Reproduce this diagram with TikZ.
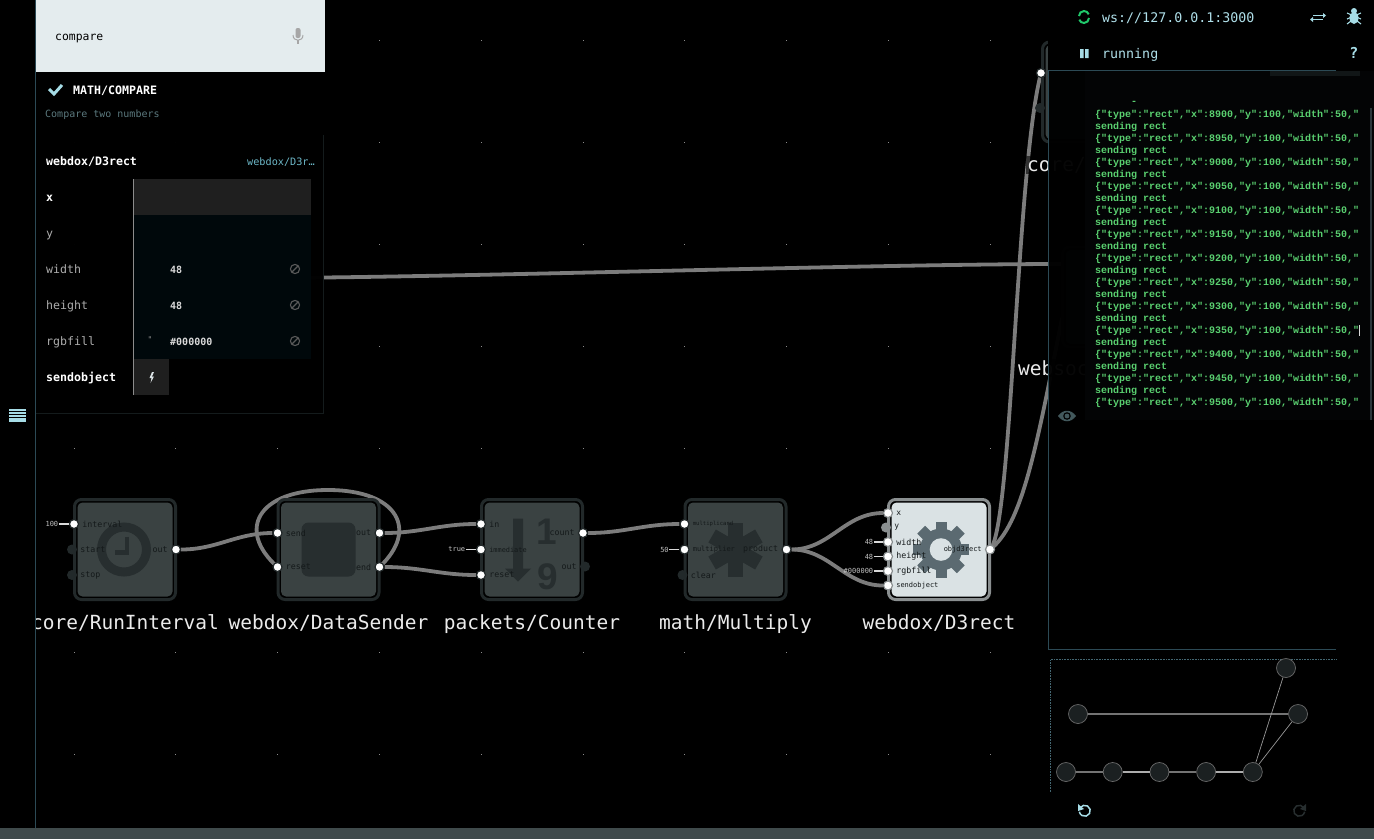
\documentclass[tikz,border=0pt]{standalone}
\usepackage{fontspec}
\usetikzlibrary{chains,positioning,backgrounds}
\newfontfamily\codefont{DejaVu Sans Mono}
\newfontfamily\logfont{Liberation Mono}
\newfontfamily\digitfont{Liberation Sans}
\newcommand{\fs}[1]{\fontsize{#1}{#1}\selectfont}
\definecolor{ring}{HTML}{22292A}
\definecolor{ringlight}{HTML}{8A8F90}
\definecolor{bodygray}{HTML}{3A4242}
\definecolor{bodylight}{HTML}{DAE2E4}
\definecolor{searchfill}{HTML}{E4ECEE}
\definecolor{iconink}{HTML}{272E2F}
\definecolor{portink}{HTML}{14191A}
\definecolor{gearink}{HTML}{5B6A71}
\definecolor{wirecol}{HTML}{7C7C7C}
\definecolor{linecol}{HTML}{2C4A55}
\definecolor{paleblue}{HTML}{A6DCE6}
\definecolor{tealtext}{HTML}{6DB8C8}
\definecolor{rowfill}{HTML}{00080B}
\definecolor{loggreen}{HTML}{5AD070}
\definecolor{syncgreen}{HTML}{20C86A}
\definecolor{barcol}{HTML}{3F4A4B}
\begin{document}
\begin{tikzpicture}[
x=1pt,y=-1pt,
block/.style 2 args={
  rounded corners=7pt,
  draw=#1,
  line width=3pt,
  fill=black,
  minimum width=101pt,
  minimum height=100pt,
  inner sep=0pt,
  path picture={\fill[rounded corners=5pt,#2]
    ([shift={(3pt,-3pt)}]path picture bounding box.north west) rectangle
    ([shift={(-3pt,3pt)}]path picture bounding box.south east);}
},
blocktitle/.style={
  font=\codefont\fs{19.5},
  text=white!92!black,
  fill=black,
  fill opacity=.6,
  text opacity=1,
  inner sep=1pt,
  label distance=12pt
},
port/.style={
  circle,
  fill=white,
  draw=#1,
  line width=1.2pt,
  inner sep=0pt,
  minimum size=9pt
},
port/.default=ring,
idle/.style={
  circle,
  fill=#1,
  inner sep=0pt,
  minimum size=10pt
},
idle/.default=ring,
inlab/.style={
  font=\codefont\fs{#1},
  text=portink,
  inner sep=1pt,
  label distance=2pt
},
inlab/.default=8.3,
iip/.style={
  font=\codefont\fs{7},
  text=white!75!black,
  inner sep=.5pt
},
iipline/.style={draw=white!85!black,line width=1.4pt},
wire/.style={draw=wirecol,line width=3.8pt},
mininode/.style={
  circle,
  draw=white!42!black,
  fill=iconink!70!black,
  line width=.7pt,
  minimum size=19pt,
  inner sep=0pt
},
minidim/.style={draw=white!45!black,line width=1.2pt},
minibright/.style={draw=white!68!black,line width=1.2pt},
minithin/.style={draw=white!60!black,line width=.7pt},
boxed/.style={anchor=west,inner sep=0pt,text height=10pt,text depth=1.6pt},
rowtext/.style={boxed,font=\codefont\fs{11.6},text=white!68!black},
rowbold/.style={boxed,font=\codefont\bfseries\fs{11.6},text=white},
rowvalue/.style={boxed,font=\codefont\bfseries\fs{10},text=white!85!black},
banicon/.style={draw=white!35!black,line width=1.1pt},
logline/.style={font=\logfont\bfseries\fs{10},text=loggreen,anchor=west,inner sep=0pt,text height=9pt,text depth=1.6pt},
headtext/.style={font=\codefont\fs{13.3},text=paleblue!90!white,anchor=west,inner sep=0pt,text height=12pt,text depth=.6pt},
start chain=flow going right,node distance=99.5pt
]
\useasboundingbox (0,0) rectangle (1374,839);

% grid and wires stay behind the blocks
\begin{scope}[on background layer]
\fill[black] (0,0) rectangle (1374,839);
\foreach \gx in {0,...,9}
  \foreach \gy in {0,...,7}
    \fill[white!55!black] ({74+101.8*\gx-.5},{40+102*\gy-.5}) rectangle +(1,1);
\end{scope}

% blocks
\node[on chain=flow,block={ring}{bodygray},label={[blocktitle]below:core/RunInterval}] at (125,549.5)
  (runinterval) {};
\node[on chain=flow,block={ring}{bodygray},label={[blocktitle]below:webdox/DataSender}]
  (datasender) {};
\node[on chain=flow,block={ring}{bodygray},label={[blocktitle]below:packets/Counter}]
  (counter) {};
\node[on chain=flow,block={ring}{bodygray},label={[blocktitle]below:math/Multiply}]
  (multiply) {};
\node[on chain=flow,block={ringlight}{bodylight},label={[blocktitle]below:webdox/D3rect}]
  (dthree) {};
\node[block={ring}{bodygray}] at (1093,92) (corenode) {};
\node[block={ring}{bodygray}] at (1113,297) (socknode) {};
\node[blocktitle,anchor=west] at (1026,165) (corelabel) {core/};
\node[blocktitle,anchor=west] at (1017,368) (socklabel) {websoc};

% icons
\begin{scope}[shift={(runinterval)}]
\draw[iconink,line width=9pt] (-1,0) circle (22.5pt);
\draw[iconink,line width=4.5pt] (2,-13) -- (2,3) -- (-10,3);
\end{scope}
\node[fill=iconink,rounded corners=7pt,minimum size=54pt,inner sep=0pt] at (datasender) (stopicon) {};
\begin{scope}[shift={(counter)}]
\fill[iconink] (-19,-31) rectangle (-9,19) -- (-1,19) -- (-14,32) -- (-27,19) -- (-19,19);
\end{scope}
\node[font=\digitfont\bfseries\fs{37},text=iconink,inner sep=0pt] at (547,532) (digitone) {1};
\node[font=\digitfont\bfseries\fs{37},text=iconink,inner sep=0pt] at (548,577) (digitnine) {9};
\begin{scope}[shift={(multiply)}]
\foreach \a in {90,30,-30}
  \draw[iconink,line width=15pt,rotate=\a] (-27,0) -- (27,0);
\end{scope}
\begin{scope}[shift={(dthree)}]
\fill[gearink] (2,0) circle (21pt);
\foreach \a in {0,45,...,315}
  \fill[gearink,shift={(2,0)},rotate=\a] (14,-5.5) rectangle (28,5.5);
\fill[bodylight] (2,0) circle (11.3pt);
\end{scope}

% ports
\node[port,label={[inlab]right:interval}] at ([shift={(1,-25.5)}]runinterval.west) (riinterval) {};
\node[idle,label={[inlab]right:start}] at ([shift={(-1,0)}]runinterval.west) (ristart) {};
\node[idle,label={[inlab]right:stop}] at ([shift={(-1,25.5)}]runinterval.west) (ristop) {};
\node[port,label={[inlab]left:out}] at ([shift={(-1,0)}]runinterval.east) (riout) {};

\node[port,label={[inlab]right:send}] at ([shift={(1,-16.5)}]datasender.west) (dssend) {};
\node[port,label={[inlab]right:reset}] at ([shift={(1,17.5)}]datasender.west) (dsreset) {};
\node[port,label={[inlab]left:out}] at ([shift={(-1,-16.5)}]datasender.east) (dsout) {};
\node[port,label={[inlab]left:end}] at ([shift={(-1,17.5)}]datasender.east) (dsend) {};

\node[port,label={[inlab]right:in}] at ([shift={(1,-25.5)}]counter.west) (cin) {};
\node[port,label={[inlab=6.9]right:immediate}] at ([shift={(1,0)}]counter.west) (cimm) {};
\node[port,label={[inlab]right:reset}] at ([shift={(1,25.5)}]counter.west) (creset) {};
\node[port,label={[inlab]left:count}] at ([shift={(-1,-16.5)}]counter.east) (ccount) {};
\node[idle,label={[inlab]left:out}] at ([shift={(1,17)}]counter.east) (cout) {};

\node[port,label={[inlab=5.6]right:multiplicand}] at ([shift={(1,-25.5)}]multiply.west) (mcand) {};
\node[port,label={[inlab=7]right:multiplier}] at ([shift={(1,0)}]multiply.west) (mplier) {};
\node[idle,label={[inlab]right:clear}] at ([shift={(-1,25.5)}]multiply.west) (mclear) {};
\node[port,label={[inlab]left:product}] at ([shift={(-1,0)}]multiply.east) (mprod) {};

\node[port=ringlight,label={[inlab=8]right:x}] at ([shift={(1,-36.5)}]dthree.west) (dx) {};
\node[idle=ringlight,label={[inlab=8]right:y}] at ([shift={(-1,-22)}]dthree.west) (dy) {};
\node[port=ringlight,label={[inlab=8.3]right:width}] at ([shift={(1,-7.5)}]dthree.west) (dwidth) {};
\node[port=ringlight,label={[inlab=8.3]right:height}] at ([shift={(1,7)}]dthree.west) (dheight) {};
\node[port=ringlight,label={[inlab=8.3]right:rgbfill}] at ([shift={(1,21.5)}]dthree.west) (dfill) {};
\node[port=ringlight,label={[inlab=7]right:sendobject}] at ([shift={(1,36)}]dthree.west) (dsendobj) {};
\node[port=ringlight,label={[inlab=7]left:objd3rect}] at ([shift={(-1,0)}]dthree.east) (dout) {};

\node[port] at ([shift={(0,-19)}]corenode.west) (corein) {};
\node[idle] at ([shift={(-1,16)}]corenode.west) (coreidle) {};

% fixed values
\node[iip,left=10pt of riinterval] (iipinterval) {100};
\node[iip,left=10pt of cimm] (iipimm) {true};
\node[iip,left=10pt of mplier] (iipplier) {50};
\node[iip,left=9pt of dwidth] (iipwidth) {48};
\node[iip,left=9pt of dheight] (iipheight) {48};
\node[iip,left=9pt of dfill] (iipfill) {\#000000};
\foreach \a/\b in {iipinterval/riinterval,iipimm/cimm,iipplier/mplier,iipwidth/dwidth,iipheight/dheight,iipfill/dfill}
  \draw[iipline] (\a) -- (\b);

\coordinate (cmpout) at (250,278);
\coordinate (sockin) at (1062,264);
\coordinate (sockinb) at (1062,318);

% wires
\begin{scope}[on background layer]
\draw[wire] (cmpout) to[out=0,in=180,looseness=.6] (sockin);
\draw[wire] (riout) to[out=0,in=180] (dssend);
\draw[wire] (dsend.center) .. controls (419,530) and (398,490) .. (328,490)
  .. controls (258,490) and (236,530) .. (dsreset.center);
\draw[wire] (dsout) to[out=0,in=180] (cin);
\draw[wire] (dsend) to[out=0,in=180] (creset);
\draw[wire] (ccount) to[out=0,in=180] (mcand);
\draw[wire] (mprod) to[out=0,in=180] (dx);
\draw[wire] (mprod) to[out=0,in=180] (dsendobj);
\draw[wire] (dout.center) .. controls (1012,530) and (1016,170) .. (corein.center);
\draw[wire] (dout.center) .. controls (1022,525) and (1036,450) .. (sockinb);
\end{scope}

% sidebar
\fill[black] (0,0) rectangle (35.5,828);
\draw[linecol,line width=1pt] (35.5,0) -- (35.5,828);
\fill[paleblue] (8.5,408.5) rectangle (26,421.5);
\foreach \ly in {411.5,414.5,417.5}
  \draw[black,line width=.7pt] (8.5,\ly) -- (26,\ly);

% left panel
\fill[black,opacity=.98] (36,72) rectangle (323,413);
\draw[black!88!paleblue,line width=.8pt] (323,135) -- (323,413) -- (36,413);
\node[fill=searchfill,minimum width=289pt,minimum height=72pt,inner sep=0pt,anchor=north west] at (36,0) (searchbox) {};
\node[boxed,font=\codefont\fs{11.4},text=black] at (55,36) (searchtext) {compare};
\begin{scope}[shift={(298,36)},white!65!black]
\fill[rounded corners=2pt] (-2.5,-8) rectangle (2.5,2);
\draw[line width=1pt] (-5,-1) .. controls (-5,6) and (5,6) .. (5,-1);
\draw[line width=1.2pt] (0,4) -- (0,8);
\end{scope}
\draw[paleblue,line width=3pt] (49,89) -- (54,94) -- (62,85);
\node[rowbold] at (73,90) (matchname) {MATH/COMPARE};
\node[boxed,font=\codefont\fs{10},text=paleblue!55!black] at (45,113.5) (matchdesc) {Compare two numbers};
\node[rowbold] at (46,161) (insptitle) {webdox/D3rect};
\node[boxed,font=\codefont\fs{10.2},text=tealtext] at (247,161) (inspclass) {webdox/D3r…};
\fill[black!88!white] (133,179) rectangle (311,215);
\fill[rowfill] (133,215) rectangle (311,359);
\fill[black!88!white] (133,359) rectangle (169,395);
\draw[white!55!black,line width=.8pt] (133.5,179) -- (133.5,395);
\node[rowbold] at (46,197) (rowx) {x};
\node[rowtext] at (46,233) (rowy) {y};
\node[rowtext] at (46,269) (rowwidth) {width};
\node[rowtext] at (46,305) (rowheight) {height};
\node[rowtext] at (46,341) (rowfillname) {rgbfill};
\node[rowbold] at (46,377) (rowsend) {sendobject};
\node[rowvalue] at (170,269) (valwidth) {48};
\node[rowvalue] at (170,305) (valheight) {48};
\node[rowvalue] at (170,341) (valfill) {\#000000};
\node[font=\codefont\fs{8},text=white!55!black,inner sep=0pt] at (150,340) (valquote) {"};
\foreach \ry in {269,305,341} {
  \draw[banicon] (295,\ry) circle (4.6pt);
  \draw[banicon] (292,\ry+3) -- (298,\ry-3);
}
\fill[bodylight] (152,372) -- (149.5,378) -- (151.5,378) -- (150.5,383) -- (154,376.5) -- (152,376.5) -- (154,372) -- cycle;

% right panel
\fill[black,opacity=.97] (1048,70) rectangle (1337,649);
\fill[black] (1048,0) rectangle (1374,70);
\fill[black!98!paleblue] (1085,71) rectangle (1374,420);
\fill[black!90!paleblue] (1270,70.5) rectangle (1360,76);
\draw[linecol,line width=.9pt] (1336,70.5) -- (1048.5,70.5) -- (1048.5,649) -- (1336,649);
\fill[black!75!paleblue] (1370,108) rectangle (1372,420);
\draw[syncgreen,line width=2pt] (1079,16) arc[start angle=180,end angle=20,radius=5pt];
\draw[syncgreen,line width=2pt] (1089,18) arc[start angle=0,end angle=-160,radius=5pt];
\node[headtext] at (1102,17) (wsurl) {ws://127.0.0.1:3000};
\draw[paleblue,line width=1.1pt] (1313,15.5) -- (1323,15.5) (1313,19.5) -- (1323,19.5);
\fill[paleblue] (1323,13) -- (1323,18) -- (1326,15.5) -- cycle (1313,17) -- (1313,22) -- (1310,19.5) -- cycle;
\begin{scope}[shift={(1354,17)},paleblue]
\fill (0,1) ellipse (4.5pt and 6pt);
\fill (0,-6) circle (3pt);
\draw[line width=1.1pt] (-7,-4) -- (7,2) (7,-4) -- (-7,2) (-7,7) -- (-3,4) (7,7) -- (3,4);
\end{scope}
\fill[paleblue] (1080,49) rectangle (1083.5,58) (1085,49) rectangle (1088.5,58);
\node[headtext] at (1102,53) (runstate) {running};
\node[font=\codefont\bfseries\fs{15},text=paleblue,inner sep=0pt] at (1354,53) (helpmark) {?};
\node[font=\logfont\bfseries\fs{10},text=loggreen,inner sep=0pt] at (1134,103) (logfrag) {-};
\foreach \k in {0,...,12} {
  \pgfmathtruncatemacro{\val}{8900+50*\k}
  \node[logline] at (1095,114+24*\k) (logrect\k) {\{"type":"rect","x":\val,"y":100,"width":50,"};
}
\foreach \k in {0,...,11}
  \node[logline] at (1095,126+24*\k) (logsend\k) {sending rect};
\fill[white!85!black] (1358.5,325) rectangle (1359.5,336);
\begin{scope}[shift={(1067,416)},black!60!paleblue]
\fill (-9,0) .. controls (-4,-7) and (4,-7) .. (9,0) .. controls (4,7) and (-4,7) .. (-9,0);
\fill[black] (0,0) circle (3.8pt);
\fill (0,0) circle (2.4pt);
\end{scope}

% graph overview
\draw[linecol!80!paleblue,densely dotted,line width=.6pt] (1050.5,792) -- (1050.5,659.5) -- (1336,659.5);
\begin{scope}[start chain=mini going right,node distance=27pt]
\node[on chain=mini,mininode] at (1066,772) (mini1) {};
\node[on chain=mini,mininode,join=by minidim] (mini2) {};
\node[on chain=mini,mininode,join=by minibright] (mini3) {};
\node[on chain=mini,mininode,join=by minidim] (mini4) {};
\node[on chain=mini,mininode,join=by minibright] (mini5) {};
\end{scope}
\node[mininode] at (1286,668) (minicore) {};
\node[mininode] at (1298,714) (minisock) {};
\node[mininode] at (1078,714) (minicomp) {};
\draw[minidim] (minicomp) -- (minisock);
\draw[minithin] (mini5) -- (minicore);
\draw[minithin] (mini5) -- (minisock);

% undo and redo
\draw[paleblue,line width=1.5pt] (1080,808) arc[start angle=150,end angle=-170,radius=5.5pt];
\fill[paleblue] (1078,804) -- (1078,811) -- (1084,809) -- cycle;
\draw[iconink,line width=1.5pt] (1304,808) arc[start angle=30,end angle=350,radius=5.5pt];
\fill[iconink] (1306,804) -- (1306,811) -- (1300,809) -- cycle;

\fill[barcol] (0,828) rectangle (1374,839);
\end{tikzpicture}
\end{document}
